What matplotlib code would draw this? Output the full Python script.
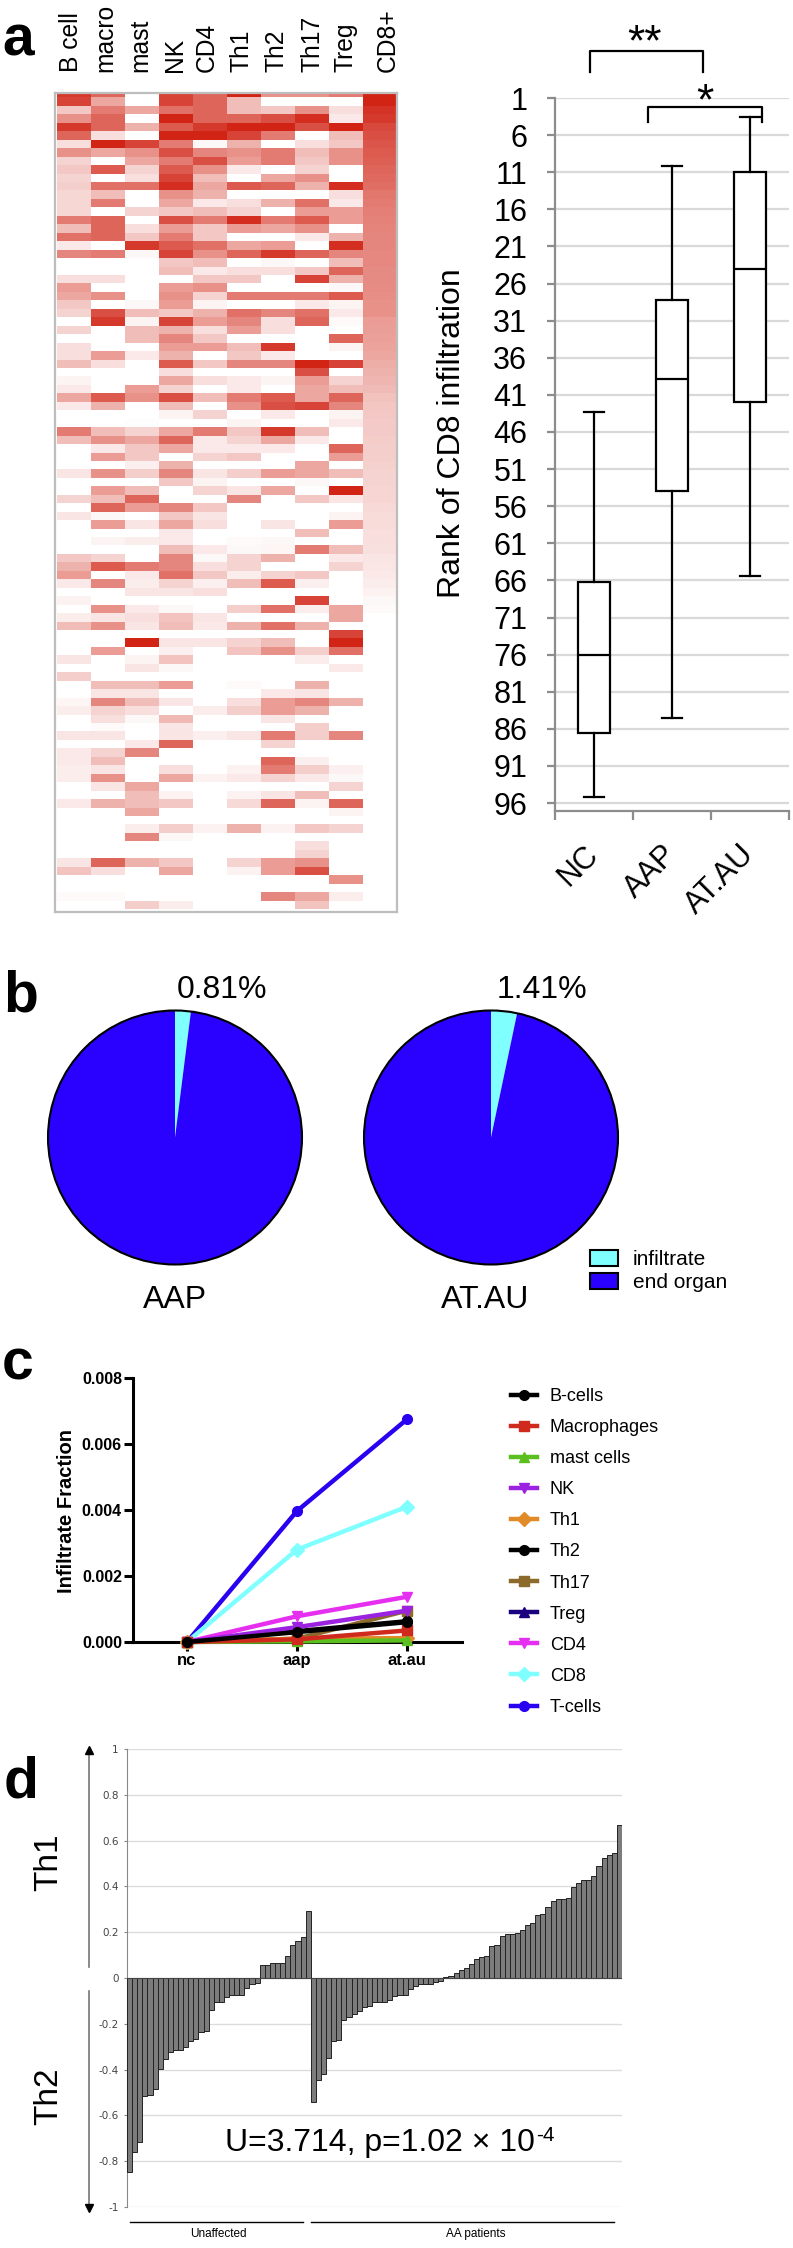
import matplotlib
matplotlib.use("Agg")
import numpy as np
import matplotlib.pyplot as plt
from matplotlib.colors import LinearSegmentedColormap
from matplotlib.lines import Line2D
from matplotlib.patches import Patch, Circle

plt.rcParams['font.family'] = ['Liberation Sans', 'DejaVu Sans']

W, H = 793, 2248

# panel a - heatmap, one row per sample, values 0-10
heat_labels = ["B cell", "macro", "mast", "NK", "CD4", "Th1", "Th2", "Th17", "Treg", "CD8+"]
heat_label_x = [71, 105, 140, 175, 207, 241, 277, 312, 346, 388]
heat_rows = [
    [9, 7, 0, 8.5, 7, 10, 5, 5, 6, 10],
    [8.5, 4, 0, 8.5, 7, 3, 0, 0, 0, 10],
    [2.5, 6, 4, 6.5, 7, 3, 2.5, 5, 1.5, 9.3],
    [5, 7, 0, 10, 7, 7, 8, 9.5, 1, 9],
    [9, 7, 3.5, 7.5, 9, 10, 10, 8, 10, 8.3],
    [7, 1.5, 0, 10, 10, 8.5, 6, 0, 3, 8],
    [1.5, 10, 8.5, 6, 0.3, 3.5, 0, 1.5, 2.5, 7.7],
    [5, 4, 5, 8, 5.5, 5, 6, 3, 5, 7.5],
    [2, 0, 4, 6, 8, 4.5, 6, 2.5, 5, 7.3],
    [2.5, 7.5, 2, 7.5, 5, 1, 0, 2, 0, 7],
    [2, 0, 1.5, 8.5, 3, 0, 4, 5, 0, 6.8],
    [2.2, 6.5, 6.5, 9.5, 4, 7.5, 7, 3.5, 9.5, 6.6],
    [1.8, 3, 0, 5, 3.5, 0, 0, 0, 1.5, 6.2],
    [1.8, 6, 0, 4, 1, 1.5, 3.5, 6.5, 1, 6],
    [1.8, 0, 2, 2.5, 3, 2, 0, 4.5, 4.5, 5.8],
    [6, 7, 0, 8, 6, 9.5, 6, 7.5, 4.5, 5.7],
    [3, 7, 1.5, 4.5, 2.5, 4.5, 4, 5, 0, 5.6],
    [6.5, 7, 2.5, 6, 2.5, 0, 0, 1, 3.5, 5.5],
    [1, 0, 9, 7.5, 6.5, 4, 4.5, 0, 9.5, 5.5],
    [5.5, 6, 0.3, 8.5, 5, 7, 9, 7, 5.5, 5.4],
    [0, 0, 0, 2.5, 3, 0, 0.3, 0, 3, 5.4],
    [0, 0, 0, 3, 1, 1.5, 1.5, 2.5, 7, 5.3],
    [1.5, 1.5, 0, 0, 2.5, 2.5, 0, 8.5, 3.5, 5.3],
    [4.5, 0, 0, 4.5, 5, 0, 0, 0, 0.3, 5.2],
    [4, 5, 0, 5, 2, 6, 6, 6, 7.5, 5.1],
    [2.5, 0, 0.3, 4.5, 0.5, 0, 0, 1, 0.5, 5],
    [2, 8, 3, 2.5, 3.5, 6.5, 5.5, 6.5, 1, 5],
    [0, 9, 0.5, 8.5, 4.5, 5.5, 1.5, 7, 0.2, 4.5],
    [2, 0, 3, 3.5, 1.5, 4.5, 1.5, 0, 0, 4.4],
    [0, 0, 3, 5.5, 2.5, 0, 0, 0, 7, 4.3],
    [1.5, 0, 0, 4.5, 4.5, 3, 9, 0, 0.5, 4.2],
    [1.5, 4.5, 1, 3.5, 0, 2.5, 1, 0, 0, 4],
    [3, 1.5, 0, 7.5, 2.5, 5.5, 5.5, 10, 8.5, 3.7],
    [0, 0, 0, 1.5, 0, 0, 0, 8, 0, 3.5],
    [0.5, 0, 0, 4, 1.5, 1, 0.5, 4.5, 2, 3.3],
    [1, 0, 4.5, 2, 0, 1, 0, 4, 3, 3.1],
    [4, 7.5, 5, 8, 3, 6, 7.5, 4, 7, 2.8],
    [1, 3.5, 0, 3, 0, 5, 8, 8.5, 5.5, 2.6],
    [0, 0, 0, 0.5, 2, 0, 1, 0, 0.5, 2.5],
    [0, 0, 0.1, 0, 0, 0.5, 0, 0, 1, 2.4],
    [6, 3, 2, 4, 6, 2.5, 9, 3, 0, 2.4],
    [3, 5, 4, 7, 1, 2, 4, 1, 0, 2.3],
    [0, 1, 2.5, 4, 1, 1, 1, 0, 7, 2.2],
    [0, 4.5, 2.5, 0, 2, 2.5, 0, 0, 4.5, 2.2],
    [0, 0, 0.7, 3.5, 0, 0, 0, 4, 0, 2.1],
    [1.2, 5, 2.2, 5.5, 1.2, 2.2, 4.5, 4, 3, 2],
    [0, 0, 0, 2.5, 0.5, 0, 0, 0.3, 0, 2],
    [0, 4.5, 3, 0, 2, 1.2, 4, 0, 10, 1.9],
    [2, 3, 7, 0, 0, 5.5, 0, 2.5, 1.2, 1.9],
    [0, 7, 4.5, 5.5, 2.5, 0, 0, 0, 0, 1.7],
    [1.2, 0.3, 0, 2.5, 1.2, 0, 0, 0, 0.5, 1.6],
    [0, 4.5, 1.2, 4, 1.5, 0, 1.2, 0, 4.5, 1.6],
    [0, 0, 0, 1, 0, 0, 0, 3, 0, 1.5],
    [0, 0.5, 0.8, 1, 0, 0.2, 0.3, 0, 0, 1.5],
    [0, 0, 0, 3, 1, 0.3, 0.4, 6, 3, 1.4],
    [2.5, 2, 0, 5.5, 0.3, 2, 3.5, 0, 1, 1.2],
    [3.5, 7.5, 6, 5.5, 1.5, 2, 0, 0, 2, 1.1],
    [4.5, 0, 1, 6.5, 2.5, 0.8, 2, 2.5, 0, 1],
    [1, 5.5, 0.8, 2, 0.7, 3, 7.5, 0.7, 0, 0.8],
    [0, 0, 1.2, 1.2, 1.5, 0, 0, 0, 0, 0.6],
    [0.6, 0, 0, 0, 0, 0, 0, 8.5, 0, 0.3],
    [0, 5, 1, 0.3, 0, 2.2, 6.5, 0.8, 4, 0.2],
    [0.8, 1.2, 1.5, 2.7, 1.2, 0, 0, 0, 4, 0],
    [3, 5, 1.2, 3, 1, 3.5, 6.5, 3.5, 0, 0],
    [0, 0, 0, 0, 0, 0, 0, 0, 8.5, 0],
    [0, 0, 10, 1.2, 1.2, 2, 3, 0, 10, 0],
    [0, 4.5, 0, 0.7, 0, 2.7, 5, 2.2, 6.5, 0],
    [1.2, 0, 0.5, 2.7, 0, 0, 0, 0.8, 0, 0],
    [0, 0, 1.2, 0.3, 0, 0, 0, 0, 1, 0],
    [2.2, 0, 0, 0, 0, 0, 0, 0, 0, 0],
    [0, 3, 3, 4.5, 0, 0.2, 0, 3.5, 0, 0],
    [0, 1.2, 1.2, 0, 0, 0, 1, 1.2, 0, 0],
    [0.4, 5.5, 3, 1.2, 0, 1.5, 4.5, 5.5, 3.5, 0],
    [0.8, 2, 1.5, 0, 0.8, 2.2, 4.5, 3.5, 0, 0],
    [0, 1.5, 0.3, 3.2, 0, 0, 1.2, 0, 0, 0],
    [0, 0.2, 0, 1.2, 0, 0, 0, 2.2, 0, 0],
    [1.2, 1.2, 0, 1.2, 0.7, 1.2, 6, 2.2, 5.5, 0],
    [0, 0, 1, 7, 0, 0, 2, 0, 0, 0],
    [1, 2, 5.5, 0, 0, 0, 0, 0, 0, 0],
    [1, 3, 0, 0, 0, 0, 7, 0.7, 0, 0],
    [0.8, 1.2, 0, 1.5, 0, 0.6, 6, 2.2, 0.7, 0],
    [0.8, 5, 0, 4, 0.6, 1, 2, 1, 0.3, 0],
    [0, 1.2, 4, 0, 0, 0, 0, 0, 2, 0],
    [0, 0, 3, 0.6, 0, 0.6, 1.2, 3, 0, 0],
    [1, 3.5, 3, 2.5, 0, 1.7, 7, 0.5, 7, 0],
    [0, 0, 4, 0, 0, 0, 0, 0, 0.5, 0],
    [0, 0, 0, 0, 0, 0, 0, 0, 0, 0],
    [0, 0, 0.8, 2.2, 0.6, 3.5, 0.6, 2.5, 2, 0],
    [0, 0, 5.5, 0.3, 0, 0, 0, 0, 0, 0],
    [0, 0, 0, 0, 0, 0, 0, 1.5, 0, 0],
    [0, 0, 0, 0, 0, 0, 0, 2, 0, 0],
    [1.2, 7, 3.5, 2.5, 0, 2, 4.5, 5, 0, 0],
    [2.7, 1.5, 0, 4, 0, 0.6, 4.5, 8, 0, 0],
    [0, 0, 0, 0, 0, 0, 0, 0, 5, 0],
    [0, 0, 0, 0, 0, 0, 0, 0, 0, 0],
    [0.2, 0.2, 0, 0, 0, 0, 5.5, 4, 0.8, 0],
    [0, 0, 2.2, 0.8, 0, 0, 0, 2.7, 0, 0],
]

# panel a - rank boxplot
box_groups = ["NC", "AAP", "AT.AU"]
box_whislo = [43.3, 10.1, 3.6]
box_q1 = [66.2, 28.2, 11]
box_med = [76, 38.9, 24]
box_q3 = [86.5, 54, 42]
box_whishi = [95.2, 84.5, 65.4]
rank_ticks = list(range(1, 97, 5))

# panel b - pies (slice size as drawn, not the printed percentage)
pie_names = ["AAP", "AT.AU"]
pie_printed = ["0.81%", "1.41%"]
pie_infiltrate = [2.0, 3.3]

# panel c
group_names = ["nc", "aap", "at.au"]
cell_names = ["B-cells", "Macrophages", "mast cells", "NK", "Th1", "Th2", "Th17", "Treg", "CD4", "CD8", "T-cells"]
cell_colors = ["#000000", "#D02A1E", "#5CBF20", "#9A22E0", "#E08A28", "#000000", "#8B6A2C", "#1A0080", "#E62EF0", "#7FFFFF", "#2A00F0"]
cell_markers = ["o", "s", "^", "v", "D", "o", "s", "^", "v", "D", "o"]
bcells = [0, 0.0003, 0.0006]
macro = [0, 0.00008, 0.00035]
mast = [0, 0.00002, 0.00005]
nk = [0, 0.00045, 0.00095]
th1 = [0, 0.0001, 0.00012]
th2 = [0, 0.00033, 0.00063]
th17 = [0, 0.0001, 0.00095]
treg = [0, 0.00005, 0.0001]
cd4 = [0, 0.00078, 0.00137]
cd8 = [0, 0.0028, 0.0041]
tcells = [0, 0.00397, 0.00675]
cell_values = [bcells, macro, mast, nk, th1, th2, th17, treg, cd4, cd8, tcells]

# panel d
unaffected = [-0.845, -0.76, -0.715, -0.517, -0.51, -0.484, -0.397, -0.353, -0.325, -0.316, -0.316, -0.302,
              -0.276, -0.267, -0.236, -0.23, -0.141, -0.106, -0.106, -0.085, -0.076, -0.076, -0.073, -0.042,
              -0.025, -0.02, 0.058, 0.058, 0.067, 0.067, 0.067, 0.098, 0.146, 0.16, 0.18, 0.294]
aa_patients = [-0.54, -0.447, -0.42, -0.35, -0.276, -0.271, -0.185, -0.172, -0.159, -0.146, -0.127, -0.122,
               -0.106, -0.106, -0.106, -0.096, -0.08, -0.076, -0.076, -0.048, -0.036, -0.028, -0.028, -0.028,
               -0.019, -0.015, 0.006, 0.01, 0.022, 0.036, 0.044, 0.063, 0.085, 0.092, 0.098, 0.141, 0.146,
               0.185, 0.194, 0.194, 0.197, 0.211, 0.233, 0.242, 0.277, 0.281, 0.308, 0.338, 0.343, 0.345,
               0.35, 0.398, 0.417, 0.43, 0.43, 0.445, 0.487, 0.526, 0.539, 0.548, 0.666]
d_ticks = [1, 0.8, 0.6, 0.4, 0.2, 0, -0.2, -0.4, -0.6, -0.8, -1]
d_tick_labels = ["1", "0.8", "0.6", "0.4", "0.2", "0", "-0.2", "-0.4", "-0.6", "-0.8", "-1"]

fig = plt.figure(figsize=(W / 100, H / 100), dpi=100, facecolor="white")


def px_axes(x0, y0, x1, y1):
    return fig.add_axes([x0 / W, 1 - y1 / H, (x1 - x0) / W, (y1 - y0) / H])


def txt(x, y, s, **kw):
    kw.setdefault("va", "baseline")
    kw.setdefault("ha", "left")
    return fig.text(x / W, 1 - y / H, s, **kw)


def line(xs, ys, color="black", lw=1.5, **kw):
    fig.add_artist(Line2D([x / W for x in xs], [1 - y / H for y in ys], color=color, lw=lw,
                          transform=fig.transFigure, **kw))


# panel letters
txt(2, 56, "a", fontsize=41, fontweight="bold")
txt(3, 1012, "b", fontsize=41, fontweight="bold")
txt(2, 1380, "c", fontsize=41, fontweight="bold")
txt(4, 1798, "d", fontsize=41, fontweight="bold")

# ---- a: heatmap
reds = LinearSegmentedColormap.from_list("reds", ["#FFFFFF", "#D12415"])
ax = px_axes(55, 93, 397, 912)
ax.imshow(np.array(heat_rows), cmap=reds, vmin=0, vmax=10, aspect="auto", interpolation="nearest")
ax.set_xlim(-0.5 - 2 / 34, 9.5)
ax.set_ylim(96.9, -0.03)
ax.set_xticks([])
ax.set_yticks([])
for s in ax.spines.values():
    s.set_color("#BDBDBD")
    s.set_linewidth(1.6)
for name, x in zip(heat_labels, heat_label_x):
    txt(x, 72, name, rotation=90, ha="center", va="bottom", fontsize=17.7)

# ---- a: boxplot
ax = px_axes(555, 98, 789, 811)
stats = []
for i in range(3):
    stats.append(dict(label=box_groups[i], whislo=box_whislo[i], q1=box_q1[i], med=box_med[i],
                      q3=box_q3[i], whishi=box_whishi[i], fliers=[]))
lp = dict(color="black", linewidth=1.6)
ax.bxp(stats, positions=[1, 2, 3], widths=0.4, capwidths=0.25, showfliers=False, patch_artist=True,
       boxprops=dict(facecolor="white", edgecolor="black", linewidth=1.6), medianprops=lp, whiskerprops=lp,
       capprops=lp, zorder=3)
ax.set_xlim(0.5, 3.5)
ax.set_ylim(97.07, 1)
ax.set_yticks(rank_ticks)
ax.set_yticklabels([str(r) for r in rank_ticks], fontsize=22)
ax.grid(axis="y", color="#D9D9D9", lw=1.6, zorder=0)
ax.set_axisbelow(True)
ax.spines["top"].set_visible(False)
ax.spines["right"].set_visible(False)
ax.spines["left"].set_color("#8C8C8C")
ax.spines["bottom"].set_color("#8C8C8C")
ax.spines["left"].set_linewidth(1.6)
ax.spines["bottom"].set_linewidth(1.6)
ax.tick_params(axis="y", length=6, width=1.6, color="#8C8C8C", pad=14)
ax.set_xticks([1, 2, 3])
ax.set_xticklabels(box_groups, fontsize=22, rotation=45, ha="right", va="center", rotation_mode="anchor")
ax.set_xticks([0.5, 1.5, 2.5, 3.5], minor=True)
ax.tick_params(axis="x", which="major", length=0, pad=28)
ax.tick_params(axis="x", which="minor", length=6.5, width=1.6, color="#8C8C8C")
txt(452, 433, "Rank of CD8 infiltration", rotation=90, ha="center", va="center", fontsize=23)

line([590, 590, 703, 703], [72, 51, 51, 72], lw=1.6)
line([648, 648, 762, 762], [122, 107, 107, 122], lw=1.6)
txt(645, 55, "**", ha="center", fontsize=32)
txt(705, 114, "*", ha="center", fontsize=32)

# ---- b: pies
for name, printed, infil, cx, lx, px in zip(pie_names, pie_printed, pie_infiltrate, [175, 491], [175, 485], [222, 542]):
    ax = px_axes(cx - 130, 1137.5 - 130, cx + 130, 1137.5 + 130)
    ax.pie([infil, 100 - infil], colors=["#80FFFF", "#2A00FF"], startangle=90, counterclock=False, radius=127,
           center=(0, 0), wedgeprops=dict(linewidth=0))
    ax.add_patch(Circle((0, 0), 127, fill=False, ec="black", lw=1.5))
    ax.set_xlim(-130, 130)
    ax.set_ylim(-130, 130)
    ax.set_aspect("equal")
    ax.axis("off")
    txt(px, 998, printed, ha="center", fontsize=23)
    txt(lx, 1308, name, ha="center", fontsize=23)

fig.legend(handles=[Patch(facecolor="#80FFFF", edgecolor="black", lw=1.5, label="infiltrate"),
                    Patch(facecolor="#2A00FF", edgecolor="black", lw=1.5, label="end organ")],
           loc="upper left", bbox_to_anchor=(590 / W, 1 - 1250 / H), frameon=False, fontsize=15,
           borderpad=0, borderaxespad=0, handlelength=1.35, handleheight=0.77, handletextpad=0.7, labelspacing=0.2)

# ---- c: lines
ax = px_axes(133, 1378, 462, 1642)
handles = {}
for i in range(len(cell_names) - 1, -1, -1):
    ln, = ax.plot([0, 1, 2], cell_values[i], color=cell_colors[i], marker=cell_markers[i], lw=3.2, ms=7,
                  clip_on=False, label=cell_names[i], zorder=3 + (len(cell_names) - i) * 0.1)
    handles[i] = ln
ax.set_xlim(-54 / 110, 2 + 55 / 110)
ax.set_ylim(0, 0.008)
ax.set_xticks([0, 1, 2])
ax.set_xticklabels(group_names, fontsize=12, fontweight="bold")
ax.set_yticks([0, 0.002, 0.004, 0.006, 0.008])
ax.set_yticklabels(["0.000", "0.002", "0.004", "0.006", "0.008"], fontsize=11.5, fontweight="bold")
ax.spines["top"].set_visible(False)
ax.spines["right"].set_visible(False)
ax.spines["left"].set_linewidth(2.2)
ax.spines["bottom"].set_linewidth(2.2)
ax.tick_params(length=6.5, width=2.2, pad=1.5)
txt(67, 1511, "Infiltrate Fraction", rotation=90, ha="center", va="center", fontsize=14.5, fontweight="bold")
fig.legend(handles=[handles[i] for i in range(len(cell_names))], loc="upper left",
           bbox_to_anchor=(511 / W, 1 - 1388 / H), frameon=False, fontsize=13, borderpad=0, borderaxespad=0,
           handlelength=1.44, handletextpad=0.72, labelspacing=0.78)

# ---- d: bars
ax = px_axes(127, 1749, 622, 2207)
vals = unaffected + aa_patients
ax.bar(np.arange(len(vals)), vals, width=1, color="#7C7C7C", edgecolor="#222222", linewidth=0.7, zorder=3)
ax.axhline(0, color="#444444", lw=0.8, zorder=4)
ax.set_xlim(-0.5, len(vals) - 0.5)
ax.set_ylim(-1, 1)
ax.set_xticks([])
ax.set_yticks(d_ticks)
ax.set_yticklabels(d_tick_labels, fontsize=7.5, color="#444444", family="DejaVu Sans")
ax.grid(axis="y", color="#DCDCDC", lw=1, zorder=0)
ax.set_axisbelow(True)
for side in ["top", "right", "bottom"]:
    ax.spines[side].set_visible(False)
ax.spines["left"].set_color("#888888")
ax.tick_params(axis="y", length=2, width=0.8, color="#888888", pad=4)

# arrows left of the axis
line([89, 89], [1967, 1752], color="#777777", lw=1.2)
line([89, 89], [1991, 2206], color="#777777", lw=1.2)
line([89], [1750], marker="^", ms=6, linestyle="none")
line([89], [2208], marker="v", ms=6, linestyle="none")
txt(49, 1862, "Th1", rotation=90, ha="center", va="center", fontsize=24)
txt(49, 2096, "Th2", rotation=90, ha="center", va="center", fontsize=24)

txt(225, 2151, "U=3.714, p=1.02 \u00d7 10", fontsize=23)
txt(536, 2141, "-4", fontsize=15)

line([130, 303], [2222, 2222], lw=1)
line([311, 614], [2222, 2222], lw=1)
txt(218, 2234, "Unaffected", ha="center", va="center", fontsize=8.5)
txt(476, 2234, "AA patients", ha="center", va="center", fontsize=8.5)

fig.savefig("out.png", dpi=100, facecolor="white")
